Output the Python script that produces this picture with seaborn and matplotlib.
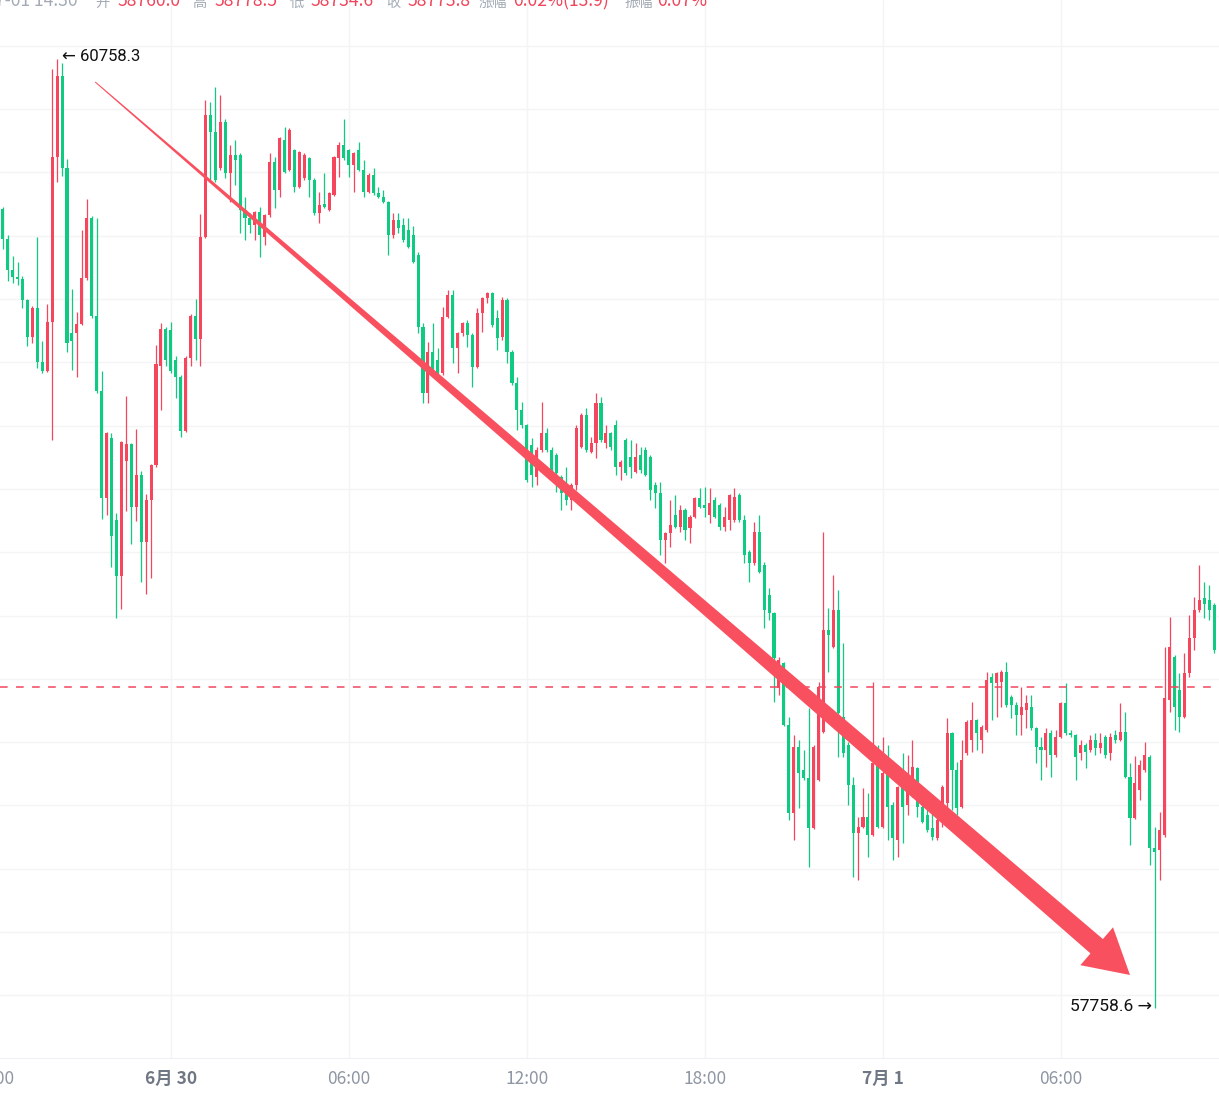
import numpy as np
import pandas as pd
import matplotlib
matplotlib.use("Agg")
import matplotlib.pyplot as plt
import seaborn as sns
from matplotlib.patches import Polygon

# 10-minute candles, 6/29 18:20 -> 7/1 11:10 (red = up, green = down)
opens = [
    60285, 60190, 60092, 60070, 60063, 59997, 59880, 59972, 59801, 59773,
    59928, 60449, 60705, 60414, 59893, 59893, 59921, 60067, 60256, 59946,
    59709, 59371, 59561, 59302, 59125, 59488, 59542, 59343, 59444, 59232,
    59365, 59476, 59788, 59905, 59902, 59807, 59754, 59583, 59814, 59946,
    59874, 60196, 60582, 60528, 60414, 60559, 60398, 60455, 60455, 60281,
    60256, 60234, 60275, 60196, 60266, 60433, 60345, 60503, 60408, 60471,
    60354, 60382, 60446, 60376, 60272, 60300, 60281, 60329, 60446, 60487,
    60471, 60424, 60471, 60408, 60338, 60392, 60335, 60322, 60307, 60202,
    60250, 60234, 60218, 60202, 60139, 59912, 59703, 59833, 59807, 59766,
    59943, 60013, 59845, 59893, 59924, 59886, 59785, 59956, 60003, 60019,
    59940, 59880, 59997, 59833, 59735, 59649, 59602, 59539, 59438, 59523,
    59577, 59523, 59507, 59438, 59387, 59365, 59412, 59532, 59634, 59517,
    59545, 59671, 59545, 59577, 59602, 59469, 59555, 59501, 59453, 59507,
    59523, 59501, 59412, 59387, 59239, 59261, 59318, 59280, 59333, 59277,
    59311, 59371, 59349, 59318, 59365, 59349, 59280, 59302, 59302, 59381,
    59302, 59201, 59166, 59264, 59160, 59065, 59008, 58771, 58850, 58654,
    58376, 58585, 58512, 58487, 58329, 58480, 58632, 58954, 58900, 59017,
    58679, 58591, 58464, 58313, 58332, 58363, 58306, 58534, 58332, 58502,
    58401, 58291, 58458, 58401, 58439, 58518, 58395, 58370, 58329, 58297,
    58354, 58407, 58629, 58512, 58395, 58566, 58607, 58670, 58607, 58638,
    58806, 58787, 58790, 58822, 58742, 58717, 58686, 58701, 58711, 58644,
    58585, 58575, 58629, 58559, 58616, 58723, 58629, 58622, 58566, 58591,
    58575, 58607, 58581, 58616, 58566, 58622, 58607, 58632, 58490, 58360,
    58449, 58512, 58553, 58265, 58259, 58306, 58733, 58869, 58765, 58679,
    58818, 58929, 59017, 59055, 59049, 59033,
]
highs = [
    60291, 60202, 60136, 60117, 60073, 60000, 59978, 60196, 59867, 59984,
    60727, 60758.3, 60746, 60443, 60032, 59959, 60218, 60316, 60262, 60256,
    59773, 59580, 59577, 59324, 59551, 59694, 59545, 59589, 59457, 59384,
    59479, 59855, 59924, 59912, 59928, 59820, 59760, 59820, 59953, 60000,
    60269, 60629, 60623, 60670, 60645, 60569, 60487, 60503, 60461, 60322,
    60272, 60278, 60291, 60269, 60461, 60449, 60512, 60544, 60540, 60474,
    60468, 60461, 60449, 60382, 60338, 60398, 60338, 60452, 60496, 60569,
    60474, 60465, 60496, 60439, 60398, 60414, 60354, 60345, 60310, 60272,
    60272, 60256, 60256, 60231, 60149, 59924, 59864, 59924, 59845, 59975,
    60029, 60029, 59896, 59927, 59934, 59893, 59972, 60006, 60022, 60022,
    59965, 60006, 60003, 59839, 59754, 59675, 59605, 59561, 59532, 59675,
    59592, 59532, 59513, 59444, 59469, 59419, 59602, 59640, 59656, 59564,
    59703, 59690, 59602, 59580, 59618, 59491, 59561, 59555, 59545, 59532,
    59532, 59507, 59422, 59422, 59264, 59365, 59381, 59349, 59340, 59318,
    59375, 59403, 59406, 59403, 59375, 59356, 59343, 59384, 59403, 59387,
    59318, 59207, 59296, 59318, 59169, 59087, 59011, 58869, 58853, 58679,
    58622, 58607, 58575, 58708, 58591, 58790, 59264, 59024, 59128, 59081,
    58913, 58600, 58490, 58363, 58455, 58439, 58790, 58591, 58616, 58591,
    58411, 58461, 58566, 58559, 58607, 58521, 58417, 58392, 58379, 58360,
    58464, 58676, 58632, 58537, 58607, 58670, 58727, 58673, 58654, 58822,
    58818, 58822, 58828, 58853, 58749, 58727, 58774, 58749, 58749, 58648,
    58616, 58644, 58638, 58638, 58726, 58787, 58638, 58625, 58607, 58597,
    58622, 58629, 58629, 58622, 58629, 58638, 58723, 58695, 58534, 58556,
    58543, 58600, 58559, 58332, 58379, 58900, 58995, 58875, 58818, 58882,
    59002, 59059, 59160, 59106, 59096, 59040,
]
lows = [
    60158, 60057, 60051, 60044, 59972, 59852, 59861, 59782, 59766, 59770,
    59555, 60370, 60389, 59833, 59776, 59754, 59918, 60060, 59940, 59703,
    59305, 59318, 59153, 58992, 59021, 59330, 59226, 59299, 59106, 59068,
    59118, 59469, 59649, 59788, 59766, 59687, 59564, 59580, 59788, 59807,
    59788, 60193, 60376, 60370, 60408, 60382, 60307, 60360, 60209, 60187,
    60209, 60187, 60133, 60171, 60259, 60288, 60322, 60398, 60405, 60338,
    60350, 60376, 60322, 60266, 60240, 60288, 60278, 60326, 60386, 60439,
    60386, 60338, 60405, 60322, 60335, 60329, 60319, 60304, 60139, 60193,
    60209, 60180, 60161, 60114, 59893, 59671, 59671, 59754, 59760, 59760,
    59940, 59798, 59766, 59883, 59849, 59722, 59782, 59896, 59988, 59912,
    59839, 59871, 59798, 59728, 59586, 59592, 59422, 59406, 59412, 59517,
    59517, 59453, 59390, 59333, 59349, 59333, 59397, 59529, 59517, 59514,
    59498, 59548, 59529, 59523, 59444, 59428, 59444, 59435, 59450, 59450,
    59440, 59365, 59340, 59191, 59166, 59217, 59277, 59264, 59239, 59229,
    59308, 59340, 59311, 59292, 59308, 59270, 59267, 59270, 59296, 59296,
    59166, 59106, 59160, 59134, 58961, 58986, 58727, 58749, 58650, 58354,
    58291, 58392, 58480, 58205, 58326, 58477, 58629, 58822, 58897, 58553,
    58553, 58401, 58174, 58164, 58329, 58237, 58303, 58329, 58329, 58291,
    58227, 58237, 58281, 58370, 58426, 58363, 58344, 58316, 58291, 58291,
    58332, 58392, 58385, 58370, 58392, 58559, 58569, 58575, 58566, 58632,
    58670, 58679, 58711, 58711, 58676, 58622, 58622, 58644, 58638, 58534,
    58480, 58521, 58490, 58553, 58613, 58622, 58616, 58480, 58543, 58518,
    58569, 58559, 58566, 58550, 58543, 58597, 58604, 58487, 58275, 58357,
    58417, 58506, 58212, 57758.6, 58164, 58300, 58695, 58638, 58632, 58676,
    58806, 58891, 59011, 58992, 58986, 58882,
]
closes = [
    60190, 60092, 60070, 60063, 59997, 59880, 59972, 59801, 59773, 59928,
    60449, 60705, 60414, 59861, 59867, 59921, 60067, 60256, 59946, 59709,
    59371, 59577, 59251, 59125, 59548, 59542, 59343, 59444, 59232, 59365,
    59476, 59795, 59905, 59807, 59773, 59754, 59583, 59814, 59946, 59874,
    60196, 60582, 60528, 60376, 60559, 60398, 60455, 60439, 60281, 60256,
    60234, 60275, 60202, 60266, 60433, 60345, 60509, 60401, 60534, 60354,
    60465, 60455, 60376, 60272, 60297, 60291, 60335, 60449, 60487, 60446,
    60424, 60461, 60408, 60338, 60392, 60335, 60322, 60307, 60202, 60250,
    60225, 60187, 60164, 60117, 59912, 59703, 59833, 59766, 59766, 59943,
    60013, 59845, 59893, 59924, 59886, 59785, 59956, 60003, 60019, 59918,
    59877, 59997, 59833, 59735, 59649, 59602, 59428, 59444, 59523, 59577,
    59523, 59460, 59450, 59387, 59365, 59412, 59592, 59634, 59523, 59545,
    59671, 59555, 59577, 59532, 59469, 59485, 59450, 59469, 59501, 59460,
    59444, 59397, 59387, 59239, 59261, 59286, 59280, 59333, 59270, 59311,
    59371, 59343, 59340, 59356, 59311, 59280, 59311, 59381, 59375, 59302,
    59191, 59166, 59264, 59138, 59017, 59008, 58866, 58859, 58654, 58376,
    58585, 58502, 58487, 58329, 58585, 58774, 58954, 58938, 59017, 58692,
    58566, 58464, 58313, 58332, 58363, 58306, 58534, 58332, 58502, 58395,
    58297, 58458, 58395, 58502, 58521, 58395, 58347, 58322, 58300, 58354,
    58458, 58629, 58512, 58392, 58543, 58663, 58670, 58629, 58648, 58796,
    58787, 58818, 58822, 58717, 58717, 58686, 58711, 58723, 58644, 58585,
    58575, 58629, 58559, 58616, 58723, 58629, 58622, 58553, 58591, 58569,
    58607, 58581, 58597, 58559, 58616, 58607, 58632, 58490, 58360, 58471,
    58528, 58559, 58265, 58253, 58322, 58739, 58900, 58711, 58679, 58818,
    58929, 59017, 59049, 59036, 59017, 58891,
]

tick_pos = [-2, 34, 70, 106, 142, 178, 214]
tick_text = ["18:00", "6月 30", "06:00", "12:00", "18:00", "7月 1", "06:00"]
tick_bold = [False, True, False, False, False, True, False]

peak_idx, peak_price = 11, 60758.3
trough_idx, trough_price = 233, 57758.6
last_price = 58773.8

header_parts = ["7-01 14:30", "开", "58760.0", "高", "58778.5", "低", "58734.6",
                "收", "58773.8", "涨幅", "0.02%(13.9)", "振幅", "0.07%"]
# 0 = time stamp (grey, large), 1 = label (grey, small), 2 = value (red)
header_kind = [0, 1, 2, 1, 2, 1, 2, 1, 2, 1, 2, 1, 2]

# trend arrow (drawn annotation): from near the top to near the bottom
arrow_start = (18.7, 60686)
arrow_end = (228.0, 57864)

UP, DOWN = "#F6465D", "#0ECB81"
GRID = "#F3F4F6"

df = pd.DataFrame({"open": opens, "high": highs, "low": lows, "close": closes})
df["idx"] = np.arange(len(df))
df["color"] = np.where(df["close"] >= df["open"], UP, DOWN)

sns.set_style("white")
plt.rcParams["font.family"] = ["Noto Sans CJK SC", "DejaVu Sans"]

W, H = 1219, 1101
fig = plt.figure(figsize=(W / 100, H / 100), dpi=100)
ax = fig.add_axes([0, 43 / H, 1, 1058 / H])
ax.set_xlim(-0.55, 246.0)
ax.set_ylim(57601.7, 60945)

for p in np.arange(57800, 60801, 200):
    ax.axhline(p, color=GRID, lw=1, zorder=0)
for t in tick_pos[1:]:
    ax.axvline(t, color=GRID, lw=1, zorder=0)

# candles
ax.vlines(df["idx"], df["low"], df["high"], colors=df["color"], lw=0.9, zorder=2)
body_h = np.maximum((df["close"] - df["open"]).abs(), 3.5)
body_b = np.minimum(df["open"], df["close"])
ax.bar(df["idx"], body_h, bottom=body_b, width=0.62, color=df["color"],
       lw=0, zorder=3)

# last price line
ax.axhline(last_price, color="#F0475E", lw=1.1, ls=(0, (5, 5.5)), zorder=4)

# extreme labels
ax.annotate(f"← {peak_price:.1f}", xy=(peak_idx, peak_price), xytext=(3.5, 2),
            textcoords="offset points", ha="left", va="center", fontsize=12,
            family=["Roboto", "DejaVu Sans"], color="#111111", zorder=6)
ax.annotate(f"{trough_price:.1f} →", xy=(trough_idx, trough_price), xytext=(-2, 1),
            textcoords="offset points", ha="right", va="center", fontsize=12.5,
            family=["Roboto", "DejaVu Sans"], color="#111111", zorder=6)


def trend_arrow(ax, start, end, color):
    p0 = ax.transData.transform(start)
    p1 = ax.transData.transform(end)
    d = p1 - p0
    u = d / np.hypot(*d)
    n = np.array([-u[1], u[0]])
    head_len, head_w, w0, w1 = 44, 50, 1.0, 19
    base = p1 - u * head_len
    pts = [p0 + n * w0 / 2, base + n * w1 / 2, base + n * head_w / 2, p1,
           base - n * head_w / 2, base - n * w1 / 2, p0 - n * w0 / 2]
    pts = ax.transData.inverted().transform(np.array(pts))
    ax.add_patch(Polygon(pts, closed=True, facecolor=color, edgecolor="none",
                         zorder=5))


trend_arrow(ax, arrow_start, arrow_end, "#F9505F")

# x labels
ax.set_xticks([])
ax.set_yticks([])
xform = ax.get_xaxis_transform()
for pos, txt, bold in zip(tick_pos, tick_text, tick_bold):
    ax.text(pos, -21 / 1058, txt, transform=xform, ha="center", va="center",
            fontsize=12.5, color="#6F7784" if bold else "#8E96A3",
            fontweight="bold" if bold else "normal", clip_on=False)

sns.despine(ax=ax, left=True, right=True, top=True)
ax.spines["bottom"].set_color("#EEF0F3")

# header (cut off at the top edge)
header_x = [-5, 95, 117, 192, 214, 290, 310, 386, 407, 479, 513, 624, 657]
for x, txt, kind in zip(header_x, header_parts, header_kind):
    fig.text(x / W, 1 - 6.5 / H, txt, ha="left", va="baseline",
             fontsize=10.3 if kind == 1 else 12.6,
             color="#F0445A" if kind == 2 else "#A3AAB5")

fig.savefig("out.png", dpi=100, facecolor="white")
